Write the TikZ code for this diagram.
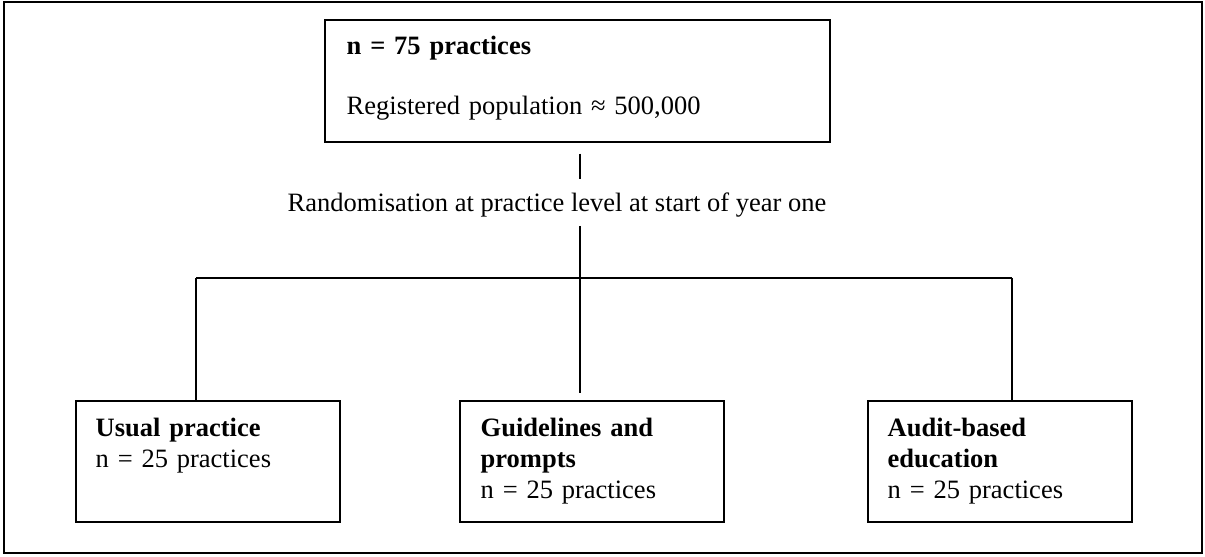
\documentclass[tikz,border=0pt]{standalone}
\usepackage{fontspec}
\setmainfont{Liberation Serif}
\usepackage{tikz}
\usetikzlibrary{positioning}
\tikzset{
    % Box styles
    studybox/.style={
        rectangle,
        draw=black,
        line width=0.8pt,
        inner sep=0pt
    },
    armbox/.style={
        studybox,
        minimum width=6.6cm,
        minimum height=3.025cm
    },
    % Text inside the boxes
    boxtext/.style={
        anchor=base west,
        inner sep=0pt,
        text width=#1,
        align=left,
        font=\fontsize{18.85}{22}\selectfont
    },
    boxtext/.default=5.8cm,
    % Connector lines
    link/.style={
        line width=0.8pt,
        color=black
    }
}
\begin{document}
\begin{tikzpicture}
    \useasboundingbox (0,0) rectangle (30.125,-13.925);

    % Outer frame
    \draw[link] (0.1,-0.05) rectangle (30.05,-13.825);

    % All practices
    \node[studybox, minimum width=12.625cm, minimum height=3.05cm] (top) at (14.4375,-2.025) {};
    \node[boxtext=11.5cm] (toptext) at ([xshift=0.55cm, yshift=-0.875cm]top.north west)
        {\textbf{n = 75 practices}\\[20.5pt]Registered population ≈ 500,000};

    % Randomisation
    \node[anchor=base, inner sep=0pt, font=\fontsize{18.85}{22}\selectfont] (rand) at (13.925,-5.3)
        {Randomisation at practice level at start of year one};

    % Arms
    \node[armbox] (usual) at (5.2,-11.5375) {};
    \node[boxtext] (usualtext) at ([xshift=0.5cm, yshift=-0.9cm]usual.north west)
        {\textbf{Usual practice}\\n = 25 practices};

    \node[armbox] (guide) at (14.8,-11.5375) {};
    \node[boxtext] (guidetext) at ([xshift=0.525cm, yshift=-0.9cm]guide.north west)
        {\textbf{Guidelines and}\\\textbf{prompts}\\n = 25 practices};

    \node[armbox] (audit) at (25.0,-11.5375) {};
    \node[boxtext] (audittext) at ([xshift=0.5cm, yshift=-0.9cm]audit.north west)
        {\textbf{Audit-based}\\\textbf{education}\\n = 25 practices};

    % Connections
    \coordinate (split) at (14.5,-6.95);
    \coordinate (lefttap) at (4.9,-6.95);
    \coordinate (righttap) at (25.3,-6.95);
    \draw[link] (top.south -| split) ++(0,-0.275) -- ++(0,-0.625);
    \draw[link] (rand.south -| split) ++(0,-0.2) -- (split);
    \draw[link] (lefttap) -- (righttap);
    \draw[link] (lefttap) -- (lefttap |- usual.north);
    \draw[link] (split) -- ++(0,-2.875);
    \draw[link] (righttap) -- (righttap |- audit.north);

\end{tikzpicture}
\end{document}
